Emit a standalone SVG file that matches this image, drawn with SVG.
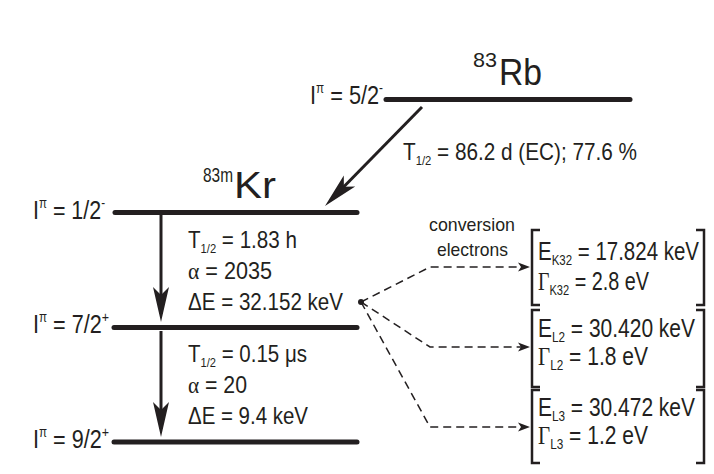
<svg xmlns="http://www.w3.org/2000/svg" width="714" height="474" viewBox="0 0 714 474">
<style>
text{font-family:"Liberation Sans",Arial,sans-serif;fill:#231f20}
.lvl{font-size:26px}
.par{font-size:24px}
.box{font-size:25px}
.sm{font-size:19px}
.serif{font-family:"Liberation Serif","Times New Roman",serif}
.level{stroke:#231f20;stroke-width:5;stroke-linecap:round;fill:none}
.arrow{stroke:#231f20;stroke-width:3;fill:none}
.dash{stroke:#231f20;stroke-width:1.5;fill:none;stroke-dasharray:8 5}
.bracket{stroke:#231f20;stroke-width:2.5;fill:none}
</style>
<defs>
<marker id="head" markerUnits="userSpaceOnUse" orient="auto" refX="0" refY="0" markerWidth="1" markerHeight="1" overflow="visible">
<path d="M8,0 L-27,-8 L-19,0 L-27,8 Z" fill="#231f20"/>
</marker>
<marker id="small" markerUnits="userSpaceOnUse" orient="auto" refX="0" refY="0" markerWidth="1" markerHeight="1" overflow="visible">
<path d="M6,0 L-6,-4.5 L-3,0 L-6,4.5 Z" fill="#231f20"/>
</marker>
</defs>

<g id="rb">
<text x="473" y="67" font-size="21" textLength="24" lengthAdjust="spacingAndGlyphs">83</text>
<text x="499" y="85" font-size="36" textLength="43" lengthAdjust="spacingAndGlyphs">Rb</text>
<text class="lvl" x="310" y="104" textLength="73" lengthAdjust="spacingAndGlyphs">I<tspan font-size="14" dy="-11">π</tspan><tspan dy="11"> = 5/2</tspan><tspan font-size="14" dy="-11">-</tspan></text>
<path class="level" d="M386,99.5 H630"/>
<text class="par" x="403" y="160" textLength="234" lengthAdjust="spacingAndGlyphs">T<tspan font-size="13" dy="5">1/2</tspan><tspan dy="-5"> = 86.2 d (EC); 77.6 %</tspan></text>
</g>

<g id="kr-title">
<text x="203" y="182" font-size="21" textLength="30" lengthAdjust="spacingAndGlyphs">83m</text>
<text x="234" y="198" font-size="36" textLength="42" lengthAdjust="spacingAndGlyphs">Kr</text>
</g>

<g id="kr-level-1">
<text class="lvl" x="33" y="219" textLength="72" lengthAdjust="spacingAndGlyphs">I<tspan font-size="14" dy="-11">π</tspan><tspan dy="11"> = 1/2</tspan><tspan font-size="14" dy="-11">-</tspan></text>
<path class="level" d="M115,212.5 H357"/>
<text class="par" x="188" y="248" textLength="109" lengthAdjust="spacingAndGlyphs">T<tspan font-size="13" dy="5">1/2</tspan><tspan dy="-5"> = 1.83 h</tspan></text>
<text class="par" x="188" y="279" textLength="84" lengthAdjust="spacingAndGlyphs"><tspan class="serif">α</tspan> = 2035</text>
<text class="par" x="188" y="310" textLength="155" lengthAdjust="spacingAndGlyphs">ΔE = 32.152 keV</text>
</g>

<g id="kr-level-2">
<text class="lvl" x="33" y="333" textLength="76" lengthAdjust="spacingAndGlyphs">I<tspan font-size="14" dy="-11">π</tspan><tspan dy="11"> = 7/2</tspan><tspan font-size="15" dy="-11">+</tspan></text>
<path class="level" d="M114,327.5 H357"/>
<text class="par" x="188" y="362" textLength="119" lengthAdjust="spacingAndGlyphs">T<tspan font-size="13" dy="5">1/2</tspan><tspan dy="-5"> = 0.15 μs</tspan></text>
<text class="par" x="188" y="393" textLength="59" lengthAdjust="spacingAndGlyphs"><tspan class="serif">α</tspan> = 20</text>
<text class="par" x="188" y="424" textLength="120" lengthAdjust="spacingAndGlyphs">ΔE = 9.4 keV</text>
</g>

<g id="kr-level-3">
<text class="lvl" x="33" y="448" textLength="76" lengthAdjust="spacingAndGlyphs">I<tspan font-size="14" dy="-11">π</tspan><tspan dy="11"> = 9/2</tspan><tspan font-size="15" dy="-11">+</tspan></text>
<path class="level" d="M114,442 H357"/>
</g>

<g id="label-conversion">
<text class="sm" x="429" y="231" textLength="86" lengthAdjust="spacingAndGlyphs">conversion</text>
<text class="sm" x="437" y="256" textLength="71" lengthAdjust="spacingAndGlyphs">electrons</text>
</g>

<g id="box-k32">
<path class="bracket" d="M540,230 H532 V305 H540 M696,230 H704 V305 H696"/>
<text class="box" x="538" y="260" textLength="161" lengthAdjust="spacingAndGlyphs">E<tspan font-size="14" dy="5">K32</tspan><tspan dy="-5"> = 17.824 keV</tspan></text>
<text class="box" x="538" y="290" textLength="111" lengthAdjust="spacingAndGlyphs"><tspan class="serif">Γ</tspan><tspan font-size="14" dy="5">K32</tspan><tspan dy="-5"> = 2.8 eV</tspan></text>
</g>

<g id="box-l2">
<path class="bracket" d="M540,310 H532 V387 H540 M696,310 H704 V387 H696"/>
<text class="box" x="538" y="337" textLength="157" lengthAdjust="spacingAndGlyphs">E<tspan font-size="14" dy="5">L2</tspan><tspan dy="-5"> = 30.420 keV</tspan></text>
<text class="box" x="538" y="365" textLength="110" lengthAdjust="spacingAndGlyphs"><tspan class="serif">Γ</tspan><tspan font-size="14" dy="5">L2</tspan><tspan dy="-5"> = 1.8 eV</tspan></text>
</g>

<g id="box-l3">
<path class="bracket" d="M540,390 H532 V463 H540 M696,390 H704 V463 H696"/>
<text class="box" x="538" y="416" textLength="157" lengthAdjust="spacingAndGlyphs">E<tspan font-size="14" dy="5">L3</tspan><tspan dy="-5"> = 30.472 keV</tspan></text>
<text class="box" x="538" y="444" textLength="110" lengthAdjust="spacingAndGlyphs"><tspan class="serif">Γ</tspan><tspan font-size="14" dy="5">L3</tspan><tspan dy="-5"> = 1.2 eV</tspan></text>
</g>

<g id="connectors">
<path class="arrow" d="M422,107 L330.6,200.3" marker-end="url(#head)"/>
<path class="arrow" d="M161,215 V314" marker-end="url(#head)"/>
<path class="arrow" d="M161,331 V429" marker-end="url(#head)"/>
<circle cx="361" cy="302" r="3" fill="#231f20"/>
<path class="dash" d="M361,302 L430,267 H524" marker-end="url(#small)"/>
<path class="dash" d="M361,302 L430,347 H524" marker-end="url(#small)"/>
<path class="dash" d="M361,302 L430,427 H524" marker-end="url(#small)"/>
</g>
</svg>
